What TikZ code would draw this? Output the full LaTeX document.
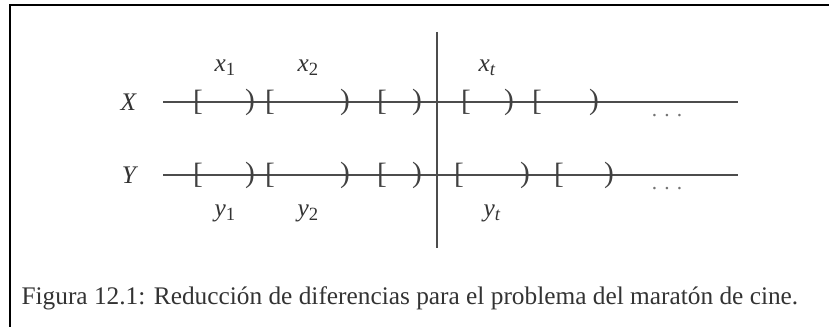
\documentclass[tikz,border=0pt]{standalone}
\usepackage{fontspec}
\setmainfont{Liberation Serif}
\usetikzlibrary{positioning}

\newcommand{\lblsub}[2]{\textit{#1}\raisebox{-0.35ex}{\fontsize{14}{15}\selectfont #2}}

\begin{document}
\begin{tikzpicture}[x=0.75pt, y=-0.75pt,
    boxline/.style={draw=black, line width=2.2pt},
    rowline/.style={draw=black!70, line width=1.5pt},
    brk/.style={inner sep=0pt, font=\fontsize{22}{24}\selectfont, text=black!75},
    rowname/.style={inner sep=1pt, font=\fontsize{19}{21}\selectfont\itshape, text=black!80},
    lbl/.style={inner sep=1pt, font=\fontsize{19}{21}\selectfont, text=black!80},
    ellip/.style={inner sep=0pt, font=\fontsize{16}{18}\selectfont, text=black!55}]

    \useasboundingbox (0,0) rectangle (829,327);

    % outer frame (top and left only)
    \coordinate (ftl) at (10,5);
    \coordinate (ftr) at (829,5);
    \coordinate (fbl) at (10,327);
    \draw [boxline] (ftr) -- (ftl) -- (fbl);

    % rows
    \coordinate (xs) at (163,102);
    \coordinate (xe) at (738,102);
    \coordinate (ys) at (163,175);
    \coordinate (ye) at (738,175);
    \draw [rowline] (xs) -- (xe);
    \draw [rowline] (ys) -- (ye);

    % cut at time t
    \coordinate (ttop) at (437,32);
    \coordinate (tbot) at (437,248);
    \draw [rowline] (ttop) -- (tbot);

    \node [rowname, left=19pt of xs] (X) {X};
    \node [rowname, left=19pt of ys] (Y) {Y};

    % intervals of X
    \foreach \a/\b [count=\i] in {198/250, 270/345, 382/417, 466/509, 537/594} {
        \node [brk] (xo\i) at (\a,102) {[};
        \node [brk] (xc\i) at (\b,102) {)};
    }
    % intervals of Y
    \foreach \a/\b [count=\i] in {198/250, 270/345, 382/417, 459/525, 559/609} {
        \node [brk] (yo\i) at (\a,175) {[};
        \node [brk] (yc\i) at (\b,175) {)};
    }

    \node [ellip] (xdots) at (667,116) {. . .};
    \node [ellip] (ydots) at (667,189) {. . .};

    \node [lbl] (x1) at (225,68) {\lblsub{x}{1}};
    \node [lbl] (x2) at (308,68) {\lblsub{x}{2}};
    \node [lbl] (xt) at (487,68) {\lblsub{x}{\textit{t}}};
    \node [lbl] (y1) at (225,213) {\lblsub{y}{1}};
    \node [lbl] (y2) at (308,213) {\lblsub{y}{2}};
    \node [lbl] (yt) at (492,213) {\lblsub{y}{\textit{t}}};

    \node [lbl, anchor=west] (cap) at (20,298)
        {Figura 12.1: Reducción de diferencias para el problema del maratón de cine.};
\end{tikzpicture}
\end{document}
